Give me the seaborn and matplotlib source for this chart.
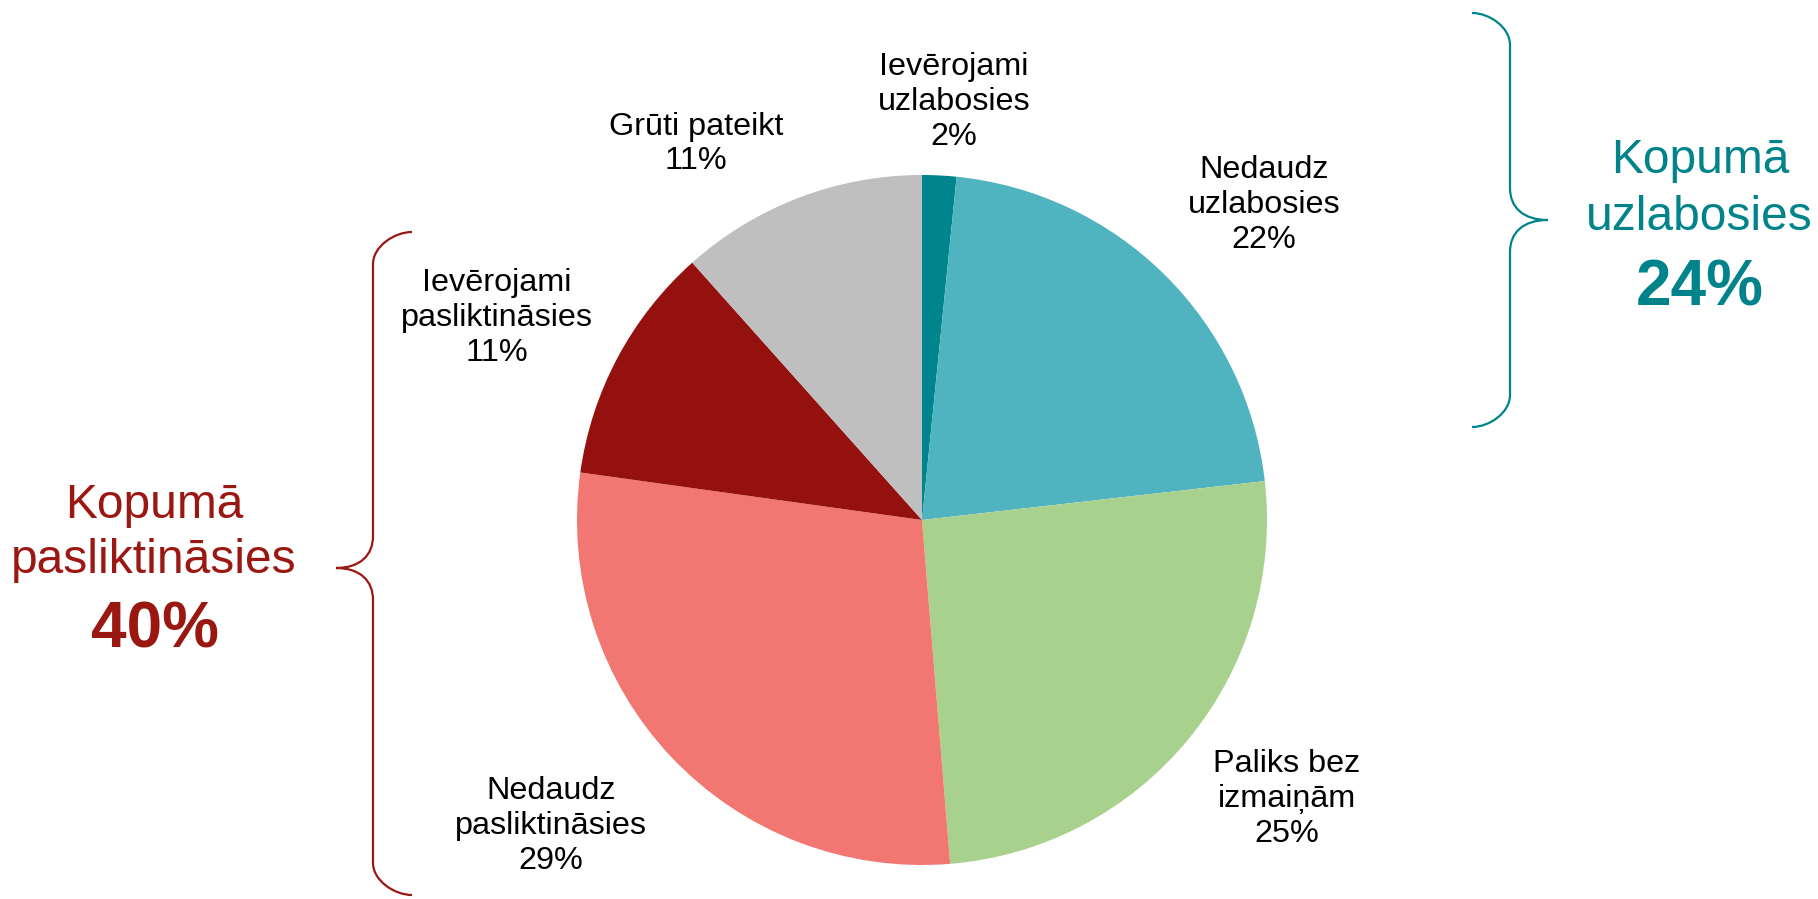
import seaborn as sns
import matplotlib.pyplot as plt
from matplotlib.path import Path
from matplotlib.patches import PathPatch

# Slice data, clockwise from 12 o'clock
categories = ['Ievērojami\nuzlabosies', 'Nedaudz\nuzlabosies', 'Paliks bez\nizmaiņām',
              'Nedaudz\npasliktināsies', 'Ievērojami\npasliktināsies', 'Grūti pateikt']
shares = [1.6, 21.6, 25.5, 28.5, 11.2, 11.6]
pct_labels = ['2%', '22%', '25%', '29%', '11%', '11%']
colors = ['#00858C', '#50B3C0', '#A9D18E', '#F27672', '#94110F', '#BFBFBF']

# label anchor points (pixels from top-left)
label_pos = [(954, 102), (1264, 205), (1287, 799), (551, 826), (497, 318), (696, 144)]

total_up = '24%'
total_down = '40%'
teal = '#00838A'
darkred = '#9B1712'

W, H = 1818, 899

sns.set_theme(style='white')
plt.rcParams['font.family'] = ['Liberation Sans', 'DejaVu Sans']

fig = plt.figure(figsize=(W / 100, H / 100), dpi=100)
ax = fig.add_axes([0, 0, 1, 1])

ax.pie(shares, colors=colors, startangle=90, counterclock=False,
       center=(922, H - 520), radius=345, wedgeprops=dict(linewidth=0))

for cat, pct, (x, y) in zip(categories, pct_labels, label_pos):
    ax.text(x, H - y, cat + '\n' + pct, ha='center', va='center',
            multialignment='center', fontsize=23.3, linespacing=1.2, color='black')


def brace(x_end, x_mid, x_tip, y_top, y_tip, y_bot, r, color):
    # curly brace drawn with bezier segments, coordinates in pixels from top
    s = 1 if x_tip > x_mid else -1
    pts = [
        (x_end, y_top),
        (x_end + s * r * 0.55, y_top), (x_mid, y_top + r * 0.45), (x_mid, y_top + r),
        (x_mid, y_tip - r),
        (x_mid, y_tip - r * 0.4), (x_mid + s * r * 0.4, y_tip), (x_tip, y_tip),
        (x_mid + s * r * 0.4, y_tip), (x_mid, y_tip + r * 0.4), (x_mid, y_tip + r),
        (x_mid, y_bot - r),
        (x_mid, y_bot - r * 0.45), (x_end + s * r * 0.55, y_bot), (x_end, y_bot),
    ]
    codes = [Path.MOVETO, Path.CURVE4, Path.CURVE4, Path.CURVE4, Path.LINETO,
             Path.CURVE4, Path.CURVE4, Path.CURVE4, Path.CURVE4, Path.CURVE4, Path.CURVE4,
             Path.LINETO, Path.CURVE4, Path.CURVE4, Path.CURVE4]
    pts = [(px, H - py) for px, py in pts]
    ax.add_patch(PathPatch(Path(pts, codes), fill=False, edgecolor=color, linewidth=1.6))


brace(1472, 1510, 1548, 13, 220, 427, 32, teal)
brace(412, 373, 336, 232, 568, 895, 32, darkred)

ax.text(1700, H - 173, 'Kopumā', ha='center', va='baseline', fontsize=34.5, color=teal)
ax.text(1699, H - 230, 'uzlabosies', ha='center', va='baseline', fontsize=34.5, color=teal)
ax.text(1700, H - 305, total_up, ha='center', va='baseline', fontsize=46,
        fontweight='bold', color=teal)

ax.text(154, H - 518, 'Kopumā', ha='center', va='baseline', fontsize=34.5, color=darkred)
ax.text(154, H - 573, 'pasliktināsies', ha='center', va='baseline', fontsize=34.5, color=darkred)
ax.text(155, H - 648, total_down, ha='center', va='baseline', fontsize=46,
        fontweight='bold', color=darkred)

ax.set_xlim(0, W)
ax.set_ylim(0, H)
ax.set_aspect('equal')
ax.axis('off')

fig.savefig('out.png', dpi=100, facecolor='white')
